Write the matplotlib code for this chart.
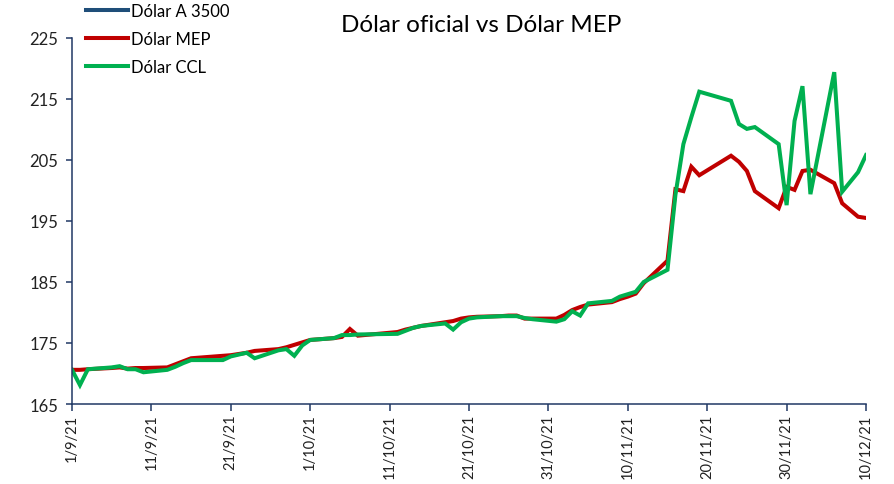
import datetime as dt
import numpy as np
import matplotlib
matplotlib.use('Agg')
import matplotlib.pyplot as plt
import matplotlib.dates as mdates
from matplotlib.ticker import FuncFormatter

plt.rcParams['font.family'] = ['Lato', 'DejaVu Sans']

# business days (AR market holidays 8/10, 11/10, 22/11, 8/12 skipped)
dates = ['2021-09-01', '2021-09-02', '2021-09-03', '2021-09-06', '2021-09-07', '2021-09-08',
         '2021-09-09', '2021-09-10', '2021-09-13', '2021-09-14', '2021-09-15', '2021-09-16',
         '2021-09-17', '2021-09-20', '2021-09-21', '2021-09-22', '2021-09-23', '2021-09-24',
         '2021-09-27', '2021-09-28', '2021-09-29', '2021-09-30', '2021-10-01', '2021-10-04',
         '2021-10-05', '2021-10-06', '2021-10-07', '2021-10-12', '2021-10-13', '2021-10-14',
         '2021-10-15', '2021-10-18', '2021-10-19', '2021-10-20', '2021-10-21', '2021-10-22',
         '2021-10-25', '2021-10-26', '2021-10-27', '2021-10-28', '2021-10-29', '2021-11-01',
         '2021-11-02', '2021-11-03', '2021-11-04', '2021-11-05', '2021-11-08', '2021-11-09',
         '2021-11-10', '2021-11-11', '2021-11-12', '2021-11-15', '2021-11-16', '2021-11-17',
         '2021-11-18', '2021-11-19', '2021-11-23', '2021-11-24', '2021-11-25', '2021-11-26',
         '2021-11-29', '2021-11-30', '2021-12-01', '2021-12-02', '2021-12-03', '2021-12-06',
         '2021-12-07', '2021-12-09', '2021-12-10']

mep = [170.6, 170.6, 170.7, 170.9, 171.0, 170.8, 170.9, 170.9, 171.0, 171.5, 172.0, 172.5,
       172.6, 172.9, 173.0, 173.2, 173.4, 173.7, 174.0, 174.3, 174.7, 175.1, 175.5, 175.8,
       176.0, 177.3, 176.2, 176.8, 177.2, 177.5, 177.8, 178.4, 178.6, 179.0, 179.2, 179.3,
       179.4, 179.5, 179.5, 179.0, 179.0, 179.0, 179.6, 180.4, 180.9, 181.3, 181.7, 182.2,
       182.6, 183.1, 184.8, 188.5, 200.2, 199.9, 203.9, 202.5, 205.7, 204.7, 203.2, 199.9,
       197.1, 200.6, 200.1, 203.2, 203.4, 201.2, 197.9, 195.7, 195.5]

ccl = [170.6, 168.1, 170.7, 171.0, 171.2, 170.7, 170.7, 170.2, 170.6, 171.1, 171.7, 172.2,
       172.2, 172.2, 172.8, 173.1, 173.4, 172.5, 173.8, 174.0, 172.9, 174.6, 175.5, 175.8,
       176.3, 176.3, 176.4, 176.5, 177.0, 177.5, 177.8, 178.2, 177.2, 178.4, 179.0, 179.2,
       179.4, 179.4, 179.4, 179.1, 178.9, 178.5, 178.9, 180.2, 179.5, 181.5, 181.9, 182.6,
       183.0, 183.4, 185.0, 187.0, 199.3, 207.6, 212.0, 216.2, 214.7, 210.9, 210.1, 210.4,
       207.6, 197.6, 211.4, 217.1, 199.4, 219.4, 199.8, 203.0, 205.8]

x = [dt.datetime.strptime(d, '%Y-%m-%d') for d in dates]
start = dt.datetime(2021, 9, 1)
end = dt.datetime(2021, 12, 10)
xticks = [start + dt.timedelta(days=10 * i) for i in range(11)]

navy = '#203864'

fig = plt.figure(figsize=(8.95, 4.85), dpi=100)
ax = fig.add_axes([72 / 895, 1 - 405 / 485, 794 / 895, 366 / 485])

ax.plot([], [], color='#1F4E79', lw=2.9, label='Dólar A 3500')
ax.plot(x, mep, color='#C00000', lw=2.9, label='Dólar MEP', solid_joinstyle='miter')
ax.plot(x, ccl, color='#00B050', lw=2.9, label='Dólar CCL', solid_joinstyle='miter')

ax.set_xlim(start, end)
ax.set_ylim(165, 225)
ax.set_yticks(np.arange(165, 226, 10))
ax.set_xticks(xticks)
ax.xaxis.set_major_formatter(FuncFormatter(
    lambda v, pos: '{d.day}/{d.month}/{y}'.format(d=mdates.num2date(v), y=mdates.num2date(v).strftime('%y'))))

for s in ['top', 'right']:
    ax.spines[s].set_visible(False)
for s in ['left', 'bottom']:
    ax.spines[s].set_color(navy)
    ax.spines[s].set_linewidth(1.1)
ax.tick_params(axis='x', length=5, width=1.1, color=navy, labelsize=10.5, rotation=90, pad=2,
               labelcolor='#222222')
ax.tick_params(axis='y', length=4, width=1.1, color=navy, labelsize=12, pad=6,
               labelcolor='#222222')
for lab in ax.get_xticklabels():
    lab.set_va('top')

fig.text(481 / 895, 1 - 26 / 485, 'Dólar oficial vs Dólar MEP', ha='center', va='center',
         fontsize=17.5, color='black')

ax.legend(loc='upper left', bbox_to_anchor=(86 / 895, 1 - 4 / 485), bbox_transform=fig.transFigure,
          frameon=False, borderpad=0, borderaxespad=0, handlelength=2.5, handletextpad=0.2,
          labelspacing=0.72, fontsize=12)

fig.savefig('out.png', dpi=100)
